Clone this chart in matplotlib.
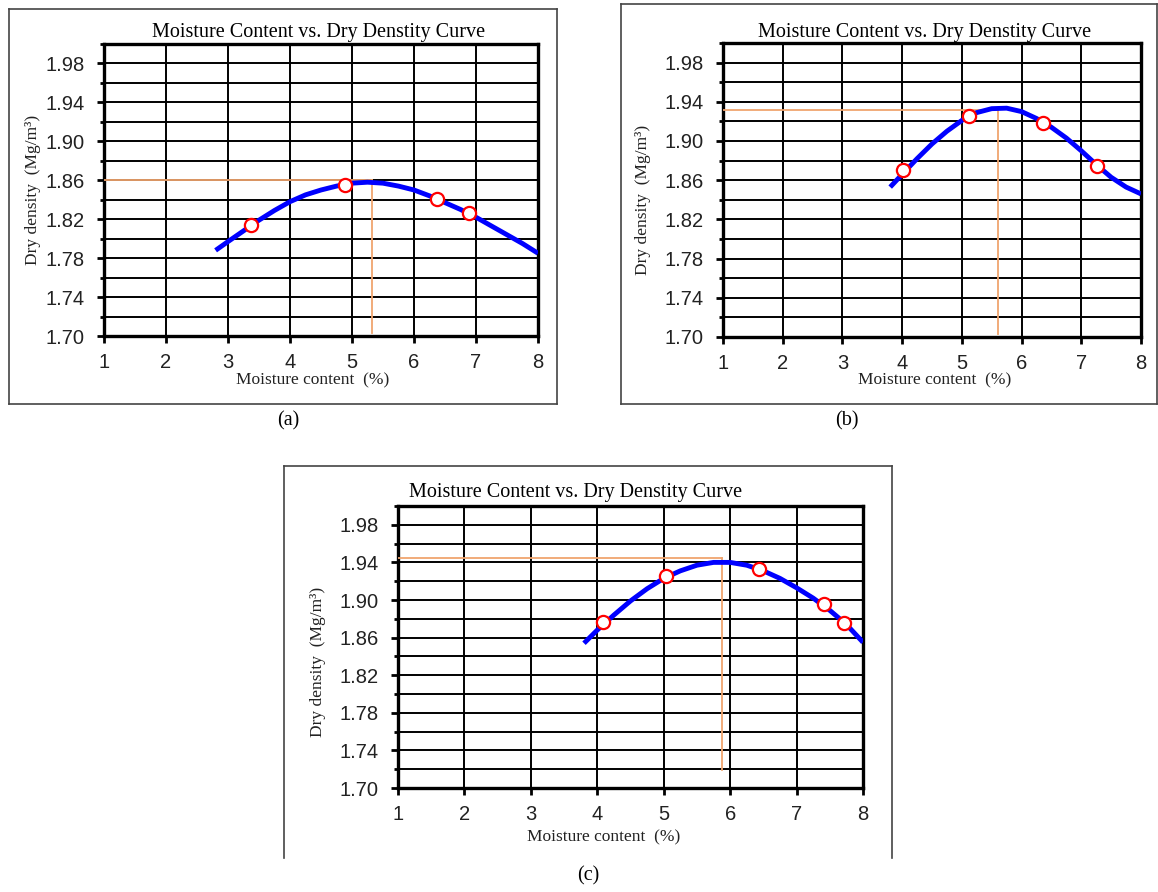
import matplotlib
matplotlib.use("Agg")
import matplotlib.pyplot as plt
from matplotlib.ticker import MultipleLocator, FormatStrFormatter
from matplotlib.lines import Line2D

W, H = 1158, 892

# ---------------- data ----------------
# panel (a)
pts_a_x = [3.37, 4.88, 6.37, 6.88]
pts_a_y = [1.814, 1.855, 1.841, 1.826]
curve_a_x = [2.8, 3.0, 3.25, 3.5, 3.75, 4.0, 4.25, 4.5, 4.75, 5.0, 5.25, 5.5,
             5.75, 6.0, 6.25, 6.5, 6.75, 7.0, 7.25, 7.5, 7.75, 8.0]
curve_a_y = [1.788, 1.797, 1.808, 1.819, 1.829, 1.838, 1.845, 1.850, 1.854, 1.857, 1.858, 1.857,
             1.854, 1.850, 1.844, 1.837, 1.830, 1.822, 1.813, 1.804, 1.795, 1.785]
mdd_a, omc_a, vbot_a = 1.86, 5.32, 1.703

# panel (b)
pts_b_x = [4.02, 5.12, 6.36, 7.27]
pts_b_y = [1.870, 1.926, 1.918, 1.874]
curve_b_x = [3.8, 4.0, 4.25, 4.5, 4.75, 5.0, 5.25, 5.5, 5.75, 6.0, 6.25, 6.5,
             6.75, 7.0, 7.25, 7.5, 7.75, 8.0]
curve_b_y = [1.853, 1.866, 1.882, 1.897, 1.910, 1.921, 1.929, 1.933, 1.9335, 1.930, 1.923, 1.914,
             1.903, 1.890, 1.876, 1.863, 1.853, 1.846]
mdd_b, omc_b, vbot_b = 1.932, 5.61, 1.703

# panel (c)
pts_c_x = [4.09, 5.03, 6.44, 7.41, 7.72]
pts_c_y = [1.8765, 1.9258, 1.9333, 1.8957, 1.8755]
curve_c_x = [3.8, 4.0, 4.25, 4.5, 4.75, 5.0, 5.25, 5.5, 5.75, 6.0, 6.25, 6.5,
             6.75, 7.0, 7.25, 7.5, 7.75, 8.0]
curve_c_y = [1.854, 1.868, 1.884, 1.899, 1.912, 1.923, 1.931, 1.937, 1.940, 1.940, 1.937, 1.931,
             1.923, 1.913, 1.902, 1.889, 1.874, 1.855]
mdd_c, omc_c, vbot_c = 1.9446, 5.87, 1.719

title_text = "Moisture Content vs. Dry Denstity Curve"
xlabel_text = "Moisture content  (%)"
ylabel_text = "Dry density  (Mg/m\u00b3)"
captions = ["(a)", "(b)", "(c)"]

SERIF = "Liberation Serif"
SANS = "Liberation Sans"
ORANGE = "#F0A56E"

fig = plt.figure(figsize=(W / 100, H / 100), dpi=100)


def fx(px):
    return px / W


def fy(py):
    return 1 - py / H


def box(x0, y0, x1, y1, bottom=True):
    kw = dict(color="#444444", lw=1.2, transform=fig.transFigure)
    fig.add_artist(Line2D([fx(x0), fx(x1)], [fy(y0), fy(y0)], **kw))
    fig.add_artist(Line2D([fx(x0), fx(x0)], [fy(y0), fy(y1)], **kw))
    fig.add_artist(Line2D([fx(x1), fx(x1)], [fy(y0), fy(y1)], **kw))
    if bottom:
        fig.add_artist(Line2D([fx(x0), fx(x1)], [fy(y1), fy(y1)], **kw))


def panel(left, right, top, bottom, cx, cy, px, py, mdd, omc, vbot,
          title_xy, xlabel_xy, ylabel_xy):
    ax = fig.add_axes([fx(left), fy(bottom), fx(right - left), (bottom - top) / H])
    ax.set_xlim(1, 8)
    ax.set_ylim(1.70, 2.00)
    ax.xaxis.set_major_locator(MultipleLocator(1))
    ax.yaxis.set_major_locator(MultipleLocator(0.04))
    ax.yaxis.set_minor_locator(MultipleLocator(0.02))
    ax.yaxis.set_major_formatter(FormatStrFormatter("%.2f"))
    ax.set_yticks([1.70 + 0.04 * i for i in range(8)])
    ax.grid(which="both", color="black", lw=1.4)
    ax.set_axisbelow(True)
    for s in ax.spines.values():
        s.set_linewidth(2.4)
        s.set_color("black")
    ax.tick_params(which="major", direction="out", length=5, width=2,
                   labelsize=14.5, pad=7)
    ax.tick_params(axis="y", which="major", pad=9)
    ax.tick_params(which="minor", direction="out", length=3, width=2)
    for lab in ax.get_xticklabels() + ax.get_yticklabels():
        lab.set_fontfamily(SANS)
        lab.set_color("#222222")
    ax.plot([1, omc], [mdd, mdd], color=ORANGE, lw=1.3, zorder=3)
    ax.plot([omc, omc], [mdd, vbot], color=ORANGE, lw=1.3, zorder=3)
    ax.plot(cx, cy, color="#0000FF", lw=3.5, solid_capstyle="butt",
            solid_joinstyle="round", zorder=4)
    ax.plot(px, py, "o", ms=9.5, mfc="white", mec="#FF0000", mew=1.6, zorder=5)
    fig.text(fx(title_xy[0]), fy(title_xy[1]), title_text, family=SERIF,
             fontsize=14.5, ha="center", va="center")
    fig.text(fx(xlabel_xy[0]), fy(xlabel_xy[1]), xlabel_text, family=SERIF,
             fontsize=12.5, ha="center", va="center", color="#222222")
    fig.text(fx(ylabel_xy[0]), fy(ylabel_xy[1]), ylabel_text, family=SERIF,
             fontsize=12.5, ha="center", va="center", rotation=90, color="#222222")
    return ax


panel(104, 538, 44, 336, curve_a_x, curve_a_y, pts_a_x, pts_a_y, mdd_a, omc_a, vbot_a,
      (319, 33), (313, 380), (33, 190))
panel(723, 1141, 43, 337, curve_b_x, curve_b_y, pts_b_x, pts_b_y, mdd_b, omc_b, vbot_b,
      (925, 32), (935, 380), (643, 200))
panel(398, 863, 506, 788, curve_c_x, curve_c_y, pts_c_x, pts_c_y, mdd_c, omc_c, vbot_c,
      (576, 492), (604, 837), (318, 662))

box(9, 9, 557, 404)
box(621, 4, 1157, 404)
box(284, 466, 892, 858, bottom=False)

fig.text(fx(288), fy(421), captions[0], family=SERIF, fontsize=14.5, ha="center", va="center")
fig.text(fx(847), fy(421), captions[1], family=SERIF, fontsize=14.5, ha="center", va="center")
fig.text(fx(588), fy(876), captions[2], family=SERIF, fontsize=14.5, ha="center", va="center")

fig.savefig("out.png", dpi=100)
